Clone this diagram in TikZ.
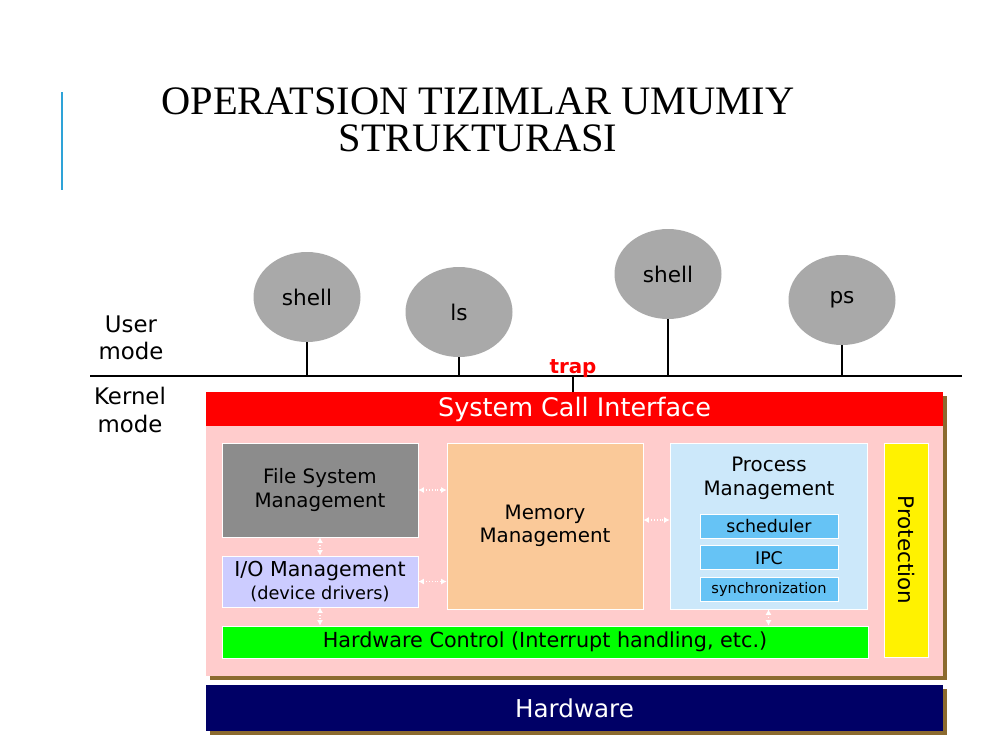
\documentclass[tikz,border=0pt]{standalone}
\usepackage{fontspec}
\setmainfont{DejaVu Sans}
\newfontfamily\titlefont{Liberation Serif}
\usetikzlibrary{arrows.meta, positioning, shapes.geometric, shadows, calc}

\definecolor{procgray}{HTML}{A9A9A9}
\definecolor{fsgray}{HTML}{8C8C8C}
\definecolor{iolav}{HTML}{CCCCFF}
\definecolor{mempeach}{HTML}{FAC999}
\definecolor{procblue}{HTML}{CCE8FA}
\definecolor{subblue}{HTML}{66C3F5}
\definecolor{kernelpink}{HTML}{FFCCCC}
\definecolor{hwgreen}{HTML}{00FF00}
\definecolor{hwnavy}{HTML}{000066}
\definecolor{shadowbrown}{HTML}{8B6A2F}
\definecolor{accentblue}{HTML}{2EA3D8}

\begin{document}
\begin{tikzpicture}[
    every node/.style={font=\fontsize{11.3}{13.3}\selectfont},
    proc/.style={ellipse, fill=procgray, minimum width=2.14cm, minimum height=1.8cm, inner sep=0pt, font=\fontsize{12.3}{14}\selectfont},
    box/.style={rectangle, draw=white, thin, align=center, inner sep=0pt},
    subbox/.style={box, fill=subblue, minimum width=2.76cm, minimum height=0.48cm, font=\fontsize{9.9}{12}\selectfont},
    layer/.style={rectangle, inner sep=0pt, minimum width=14.74cm, drop shadow={shadow xshift=0.07cm, shadow yshift=-0.07cm, fill=shadowbrown, opacity=1}},
    link/.style={{Latex[length=1.1mm,width=1.2mm]}-{Latex[length=1.1mm,width=1.2mm]}, white, densely dotted, semithick},
    modetext/.style={align=center, font=\fontsize{13}{15.6}\selectfont},
    title/.style={align=center, font=\titlefont\fontsize{23}{21}\selectfont},
    stem/.style={line width=0.6pt}
]
\useasboundingbox[fill=white] (0,0) rectangle (20,-15);

% ============ TITLE ============
\draw[accentblue, line width=1.2pt] (1.24,-1.84) -- (1.24,-3.8);
\node[title] (heading) at (9.56,-2.4) {OPERATSION TIZIMLAR UMUMIY\\STRUKTURASI};

% ============ USER MODE ============
\node[proc] (sh1) at (6.14,-5.94) {shell};
\node[proc] (ls) at (9.18,-6.24) {ls};
\node[proc] (sh2) at (13.36,-5.48) {shell};
\node[proc] (ps) at (16.84,-6.0) {ps};

\coordinate (modeL) at (1.8,-7.52);
\coordinate (modeR) at (19.24,-7.52);
\draw[stem] (modeL) -- (modeR);

\draw[stem] (sh1.south) -- (sh1.south |- modeL);
\draw[stem] (ls.south) -- (ls.south |- modeL);
\draw[stem] (sh2.south) -- (sh2.south |- modeL);
\draw[stem] (ps.south) -- (ps.south |- modeL);

\node[modetext] (user) at (2.62,-6.76) {User\\mode};
\node[modetext] (kmode) at (2.6,-8.2) {Kernel\\mode};

% ============ KERNEL ============
\node[layer, fill=kernelpink, minimum height=5.68cm] (kernel) at (11.49,-10.68) {};
\node[rectangle, inner sep=0pt, fill=red, text=white, minimum width=14.74cm, minimum height=0.68cm,
      font=\fontsize{14.5}{16}\selectfont, anchor=north] (sci) at (kernel.north) {System Call Interface};

% trap
\node[text=red, font=\bfseries\fontsize{11.3}{13}\selectfont, anchor=base] (trap) at (11.46,-7.46) {trap};
\draw[stem] (trap |- modeL) -- (trap |- sci.north);

% Components
\node[box, fill=fsgray, minimum width=3.92cm, minimum height=1.88cm] (fs) at (6.4,-9.8) {File System\\Management};
\node[box, fill=iolav, minimum width=3.92cm, minimum height=1.02cm] (io) at (6.4,-11.63)
    {\fontsize{11.7}{12.5}\selectfont I/O Management\\[-0.5pt]\fontsize{10.1}{11}\selectfont (device drivers)};
\node[box, fill=mempeach, minimum width=3.92cm, minimum height=3.32cm] (mem) at (10.9,-10.52) {Memory\\Management};
\node[box, fill=procblue, minimum width=3.94cm, minimum height=3.32cm] (proc) at (15.37,-10.52) {};
\node[align=center, font=\fontsize{11.3}{13.6}\selectfont] (proctitle) at (15.38,-9.56) {Process\\Management};

\node[subbox] (sched) at (15.38,-10.52) {scheduler};
\node[subbox, below=0.14cm of sched] (ipc) {IPC};
\node[subbox, below=0.14cm of ipc, font=\fontsize{8.3}{10}\selectfont] (sync) {synchronization};

\node[box, fill=yellow, rotate=-90, minimum width=4.28cm, minimum height=0.88cm,
      font=\fontsize{12.2}{14}\selectfont] (prot) at (18.12,-11.0) {Protection};

\node[box, fill=hwgreen, minimum width=12.92cm, minimum height=0.64cm,
      font=\fontsize{11.8}{13}\selectfont] (hwc) at (10.9,-12.84) {Hardware Control (Interrupt handling, etc.)};

% Links
\draw[link] (fs.east) -- (fs.east -| mem.west);
\draw[link] (io.east) -- (io.east -| mem.west);
\draw[link] ($(mem.east)+(0,0.12)$) -- ($(proc.west)+(0,0.12)$);
\draw[link] (fs.south) -- (io.north);
\draw[link] (io.south) -- (io.south |- hwc.north);
\draw[link] (proc.south) -- (proc.south |- hwc.north);

% ============ HARDWARE ============
\node[layer, fill=hwnavy, text=white, minimum height=0.92cm,
      font=\fontsize{14}{16}\selectfont] (hw) at (11.49,-14.16) {Hardware};

\end{tikzpicture}
\end{document}
